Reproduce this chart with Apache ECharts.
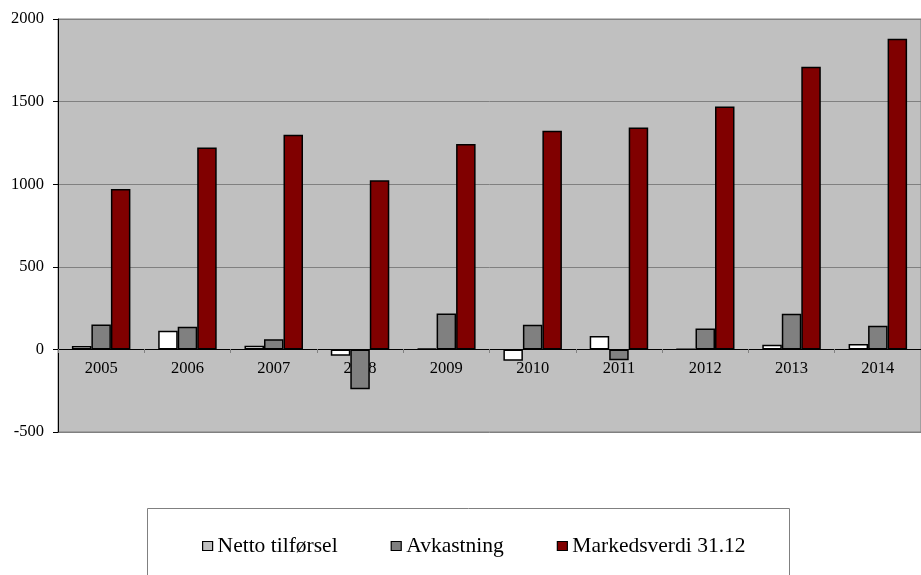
<!DOCTYPE html>
<html>
<head>
<meta charset="utf-8">
<script src="https://cdn.jsdelivr.net/npm/echarts@6/dist/echarts.min.js"></script>
<style>
  html, body { margin: 0; padding: 0; background: #fff; }
  #chart { width: 921px; height: 575px; }
</style>
</head>
<body>
<div id="chart"></div>
<script>
const years = ['2005', '2006', '2007', '2008', '2009', '2010', '2011', '2012', '2013', '2014'];
const nettoTilforsel = [20, 113, 22, -39, 5, -69, 81, 3, 28, 32];
const avkastning = [151, 137, 62, -241, 218, 149, -65, 127, 216, 143];
const markedsverdi = [971, 1222, 1300, 1024, 1244, 1323, 1343, 1470, 1711, 1880];

const FONT = '"Liberation Serif", "Times New Roman", serif';

const chart = echarts.init(document.getElementById('chart'));

const barStyle = (color) => ({
  color: color,
  borderColor: '#000',
  borderWidth: 1.5
});

chart.setOption({
  animation: false,
  backgroundColor: '#fff',
  grid: {
    left: 58,
    top: 19,
    right: -12,
    bottom: 143,
    show: true,
    backgroundColor: '#c0c0c0',
    borderColor: '#808080',
    borderWidth: 1
  },
  graphic: [
    {
      type: 'rect',
      left: 147,
      top: 508,
      shape: { width: 642, height: 100 },
      style: { fill: '#fff', stroke: '#808080', lineWidth: 1 },
      z: 0
    }
  ],
  legend: {
    left: 202,
    top: 535,
    padding: 0,
    itemWidth: 10,
    itemHeight: 9,
    itemGap: 53,
    icon: 'rect',
    textStyle: { fontFamily: FONT, fontSize: 21.5, color: '#000', lineHeight: 22 },
    itemStyle: { borderColor: '#000', borderWidth: 1.2 },
    data: [
      { name: 'Netto tilførsel', itemStyle: { color: '#c0c0c0' } },
      { name: 'Avkastning' },
      { name: 'Markedsverdi 31.12' }
    ],
    z: 5
  },
  xAxis: {
    type: 'category',
    data: years,
    offset: -83,
    axisLine: { onZero: false, lineStyle: { color: '#000', width: 1 } },
    axisTick: { show: true, length: 4, inside: false, lineStyle: { color: '#808080' } },
    axisLabel: { fontFamily: FONT, fontSize: 16.5, color: '#000', margin: 11 },
    splitLine: { show: false }
  },
  yAxis: {
    type: 'value',
    min: -500,
    max: 2000,
    interval: 500,
    axisLine: { show: true, lineStyle: { color: '#000', width: 1 } },
    axisTick: { show: true, length: 5, lineStyle: { color: '#000' } },
    axisLabel: { fontFamily: FONT, fontSize: 16.5, color: '#000', margin: 14, formatter: (v) => String(v) },
    splitLine: { show: true, lineStyle: { color: '#808080', width: 1 } }
  },
  series: [
    {
      name: 'Netto tilførsel',
      type: 'bar',
      data: nettoTilforsel,
      barWidth: 19.5,
      barGap: '0%',
      itemStyle: barStyle('#ffffff')
    },
    {
      name: 'Avkastning',
      type: 'bar',
      data: avkastning,
      barWidth: 19.5,
      barGap: '0%',
      itemStyle: barStyle('#808080')
    },
    {
      name: 'Markedsverdi 31.12',
      type: 'bar',
      data: markedsverdi,
      barWidth: 19.5,
      barGap: '0%',
      itemStyle: barStyle('#800000')
    }
  ]
});
</script>
</body>
</html>
